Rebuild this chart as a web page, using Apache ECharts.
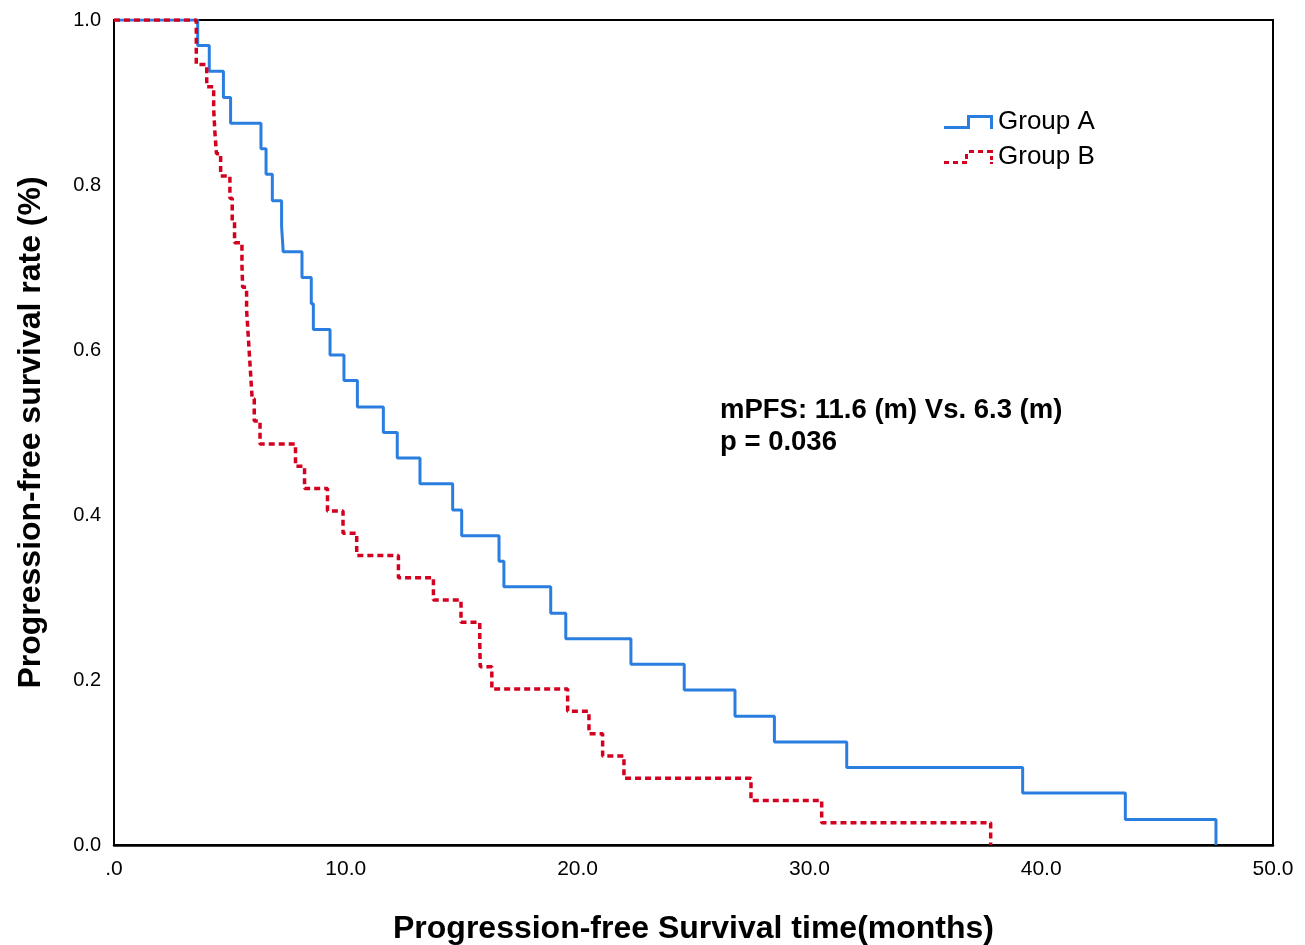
<!DOCTYPE html>
<html>
<head>
<meta charset="utf-8">
<script src="https://cdn.jsdelivr.net/npm/echarts@6/dist/echarts.min.js"></script>
<style>
html,body{margin:0;padding:0;background:#fff;}
#chart{width:1305px;height:945px;}
</style>
</head>
<body>
<div id="chart"></div>
<script>
// ---- data ----
const groupNames = ['Group A', 'Group B'];
const xTickLabels = ['.0', '10.0', '20.0', '30.0', '40.0', '50.0'];
const yTickLabels = ['0.0', '0.2', '0.4', '0.6', '0.8', '1.0'];

// Group A: event times (months) and Kaplan-Meier survival after each event
const aTime = [0, 3.61, 4.11, 4.72, 5.03, 6.34, 6.56, 6.83, 7.23, 7.30, 8.11, 8.51, 8.60, 9.32, 9.92, 10.50,
  11.62, 12.22, 13.20, 14.61, 15.00, 16.61, 16.82, 18.84, 19.49, 22.30, 24.60, 26.79, 28.49, 31.61, 39.20, 43.63, 47.54];
const aSurv = [1, 0.969, 0.938, 0.906, 0.875, 0.844, 0.813, 0.781, 0.750, 0.719, 0.688, 0.656, 0.625, 0.594, 0.563, 0.531,
  0.500, 0.469, 0.438, 0.406, 0.375, 0.344, 0.313, 0.281, 0.250, 0.219, 0.188, 0.156, 0.125, 0.094, 0.063, 0.031, 0];

// Group B
const bTime = [0, 3.55, 4.00, 4.30, 4.35, 4.42, 4.60, 5.00, 5.10, 5.20, 5.52, 5.55, 5.72, 5.78, 5.84, 5.90, 5.96, 6.05,
  6.30, 7.83, 8.22, 9.21, 9.88, 10.47, 12.27, 13.78, 14.97, 15.78, 15.80, 16.30, 19.57, 20.49, 21.08, 22.00, 27.48, 30.53, 37.82];
const bSurv = [1, 0.946, 0.919, 0.892, 0.865, 0.838, 0.811, 0.784, 0.757, 0.730, 0.703, 0.676, 0.649, 0.622, 0.595, 0.568, 0.541, 0.514,
  0.486, 0.459, 0.432, 0.405, 0.378, 0.351, 0.324, 0.297, 0.270, 0.243, 0.216, 0.189, 0.162, 0.135, 0.108, 0.081, 0.054, 0.027, 0];

const annotationLines = ['mPFS: 11.6 (m) Vs. 6.3 (m)', 'p = 0.036'];

// ---- chart ----
const zip = (t, s) => t.map((v, i) => [v, s[i]]);
const blue = '#2a7ee0';
const red = '#d4001f';
const FONT = '"Liberation Sans", Arial, sans-serif';

const iconA = 'path://M0,11 L23,11 L23,0 L49,0 L49,14 L46,14 L46,3 L26,3 L26,14 L0,14 Z';
const iconB = 'path://M0,11 L5,11 L5,14 L0,14 Z M9,11 L14,11 L14,14 L9,14 Z M18,11 L23,11 L23,14 L18,14 Z ' +
  'M21,4 L24,4 L24,9 L21,9 Z M25,0 L30,0 L30,3 L25,3 Z M34,0 L39,0 L39,3 L34,3 Z M43,0 L49,0 L49,3 L43,3 Z ' +
  'M46,6 L49,6 L49,10 L46,10 Z M46,12 L49,12 L49,14 L46,14 Z';

const chart = echarts.init(document.getElementById('chart'), null, {renderer: 'canvas'});
chart.setOption({
  animation: false,
  backgroundColor: '#fff',
  textStyle: {fontFamily: FONT},
  grid: {left: 114, right: 32, top: 20, bottom: 100, outerBoundsMode: 'none', containLabel: false,
    show: true, borderColor: '#000', borderWidth: 2, backgroundColor: '#fff'},
  legend: {
    orient: 'vertical',
    left: 944, top: 109, padding: 0,
    itemWidth: 49, itemHeight: 15, itemGap: 9,
    textStyle: {fontSize: 26, color: '#000', fontFamily: FONT},
    itemStyle: {borderWidth: 0},
    selectedMode: false,
    data: [
      {name: groupNames[0], icon: iconA, itemStyle: {color: blue, borderWidth: 0}},
      {name: groupNames[1], icon: iconB, itemStyle: {color: red, borderWidth: 0}}
    ]
  },
  xAxis: {
    type: 'value', min: 0, max: 50, interval: 10,
    name: 'Progression-free Survival time(months)',
    nameLocation: 'middle', nameGap: 68,
    nameTextStyle: {fontSize: 32, fontWeight: 'bold', color: '#000', fontFamily: FONT},
    axisLine: {show: true, lineStyle: {color: '#000', width: 2.5}},
    axisTick: {show: false},
    splitLine: {show: false},
    axisLabel: {fontSize: 21, color: '#000', margin: 14, fontFamily: FONT,
      formatter: v => xTickLabels[Math.round(v / 10)]}
  },
  yAxis: {
    type: 'value', min: 0, max: 1, interval: 0.2,
    name: 'Progression-free survival rate (%)',
    nameLocation: 'middle', nameGap: 67,
    nameTextStyle: {fontSize: 32, fontWeight: 'bold', color: '#000', fontFamily: FONT},
    axisLine: {show: true, lineStyle: {color: '#000', width: 2}},
    axisTick: {show: false},
    splitLine: {show: false},
    axisLabel: {fontSize: 20, color: '#000', margin: 13, fontFamily: FONT,
      formatter: v => yTickLabels[Math.round(v * 5)]}
  },
  series: [
    {
      name: groupNames[0], type: 'line', step: 'end', showSymbol: false, symbol: 'none',
      data: zip(aTime, aSurv),
      lineStyle: {color: blue, width: 3},
      itemStyle: {color: blue},
      z: 3
    },
    {
      name: groupNames[1], type: 'line', step: 'end', showSymbol: false, symbol: 'none',
      data: zip(bTime, bSurv),
      lineStyle: {color: red, width: 3.5, type: [6, 4], cap: 'butt'},
      itemStyle: {color: red},
      z: 4
    }
  ],
  graphic: [
    {type: 'text', left: 720, top: 396, z: 10,
      style: {text: annotationLines[0], font: 'bold 27.5px ' + FONT, fill: '#000'}},
    {type: 'text', left: 720, top: 428, z: 10,
      style: {text: annotationLines[1], font: 'bold 27.5px ' + FONT, fill: '#000'}}
  ]
});
</script>
</body>
</html>
